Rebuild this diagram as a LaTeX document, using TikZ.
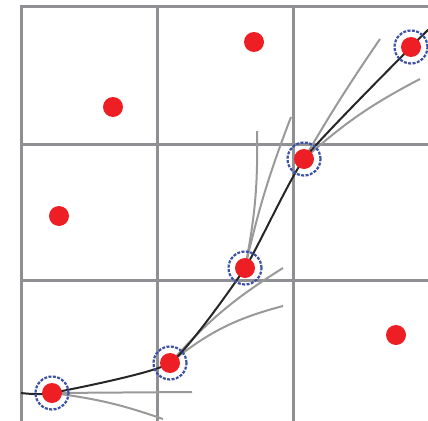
\documentclass[tikz,border=0pt]{standalone}
\usepackage{xcolor}
\usepackage{tikz}
\usetikzlibrary{calc}

\definecolor{dotred}{RGB}{237,30,36}
\definecolor{ringblue}{RGB}{62,82,165}
\definecolor{gridgray}{RGB}{142,144,147}

\begin{document}
\begin{tikzpicture}[x=1pt,y=-1pt,
    cell/.style={draw=gridgray,line width=3pt},
    particle/.style={circle,fill=dotred,inner sep=0pt,minimum size=20pt},
    tracked/.style={circle,draw=ringblue,line width=2.2pt,
      dash pattern=on 3pt off 1.4pt,inner sep=0pt,minimum size=33pt},
    track/.style={black!85,line width=2pt},
    branch/.style={black!40,line width=2pt}]
    \useasboundingbox (0,0) rectangle (428,420);
    % grid
    \foreach \gx in {21,157,293}
      \draw[cell] (\gx,5.5) -- (\gx,422);
    \foreach \gy in {7,144,280}
      \draw[cell] (19.5,\gy) -- (430,\gy);
    % tracked positions
    \coordinate (s) at (21,393);
    \coordinate (p1) at (52,393);
    \coordinate (p2) at (170,363);
    \coordinate (p3) at (245,268);
    \coordinate (p4) at (304,159);
    \coordinate (p5) at (411,47);
    \coordinate (e) at (430,28);
    % candidate branches
    \coordinate (b1a) at (192,392);
    \coordinate (b1b) at (163,419);
    \coordinate (b2a) at (283,268);
    \coordinate (b2b) at (283,306);
    \coordinate (b3a) at (257,131);
    \coordinate (b3b) at (291,117);
    \coordinate (b4a) at (380,39);
    \coordinate (b4b) at (420,79);
    \draw[branch] (p1) -- (b1a);
    \draw[branch] (p1) to[bend left=6] (b1b);
    \draw[branch] (p2) to[bend left=8] (b2a);
    \draw[branch] (p2) to[bend left=12] (b2b);
    \draw[branch] (p3) to[bend right=6] (b3a);
    \draw[branch] (p3) to[bend left=4] (b3b);
    \draw[branch] (p4) to[bend left=2] (b4a);
    \draw[branch] (p4) to[bend left=7] (b4b);
    % trajectory
    \draw[track] plot[smooth,tension=0.3] coordinates {(s) (p1) (p2) (p3) (p4) (p5) (e)};
    % particles
    \foreach \i in {1,...,5}{
      \node[particle] (d\i) at (p\i) {};
      \node[tracked] (r\i) at (p\i) {};
    }
    \node[particle] (q1) at (254,42) {};
    \node[particle] (q2) at (113,107) {};
    \node[particle] (q3) at (59,216) {};
    \node[particle] (q4) at (396,335) {};
\end{tikzpicture}
\end{document}
